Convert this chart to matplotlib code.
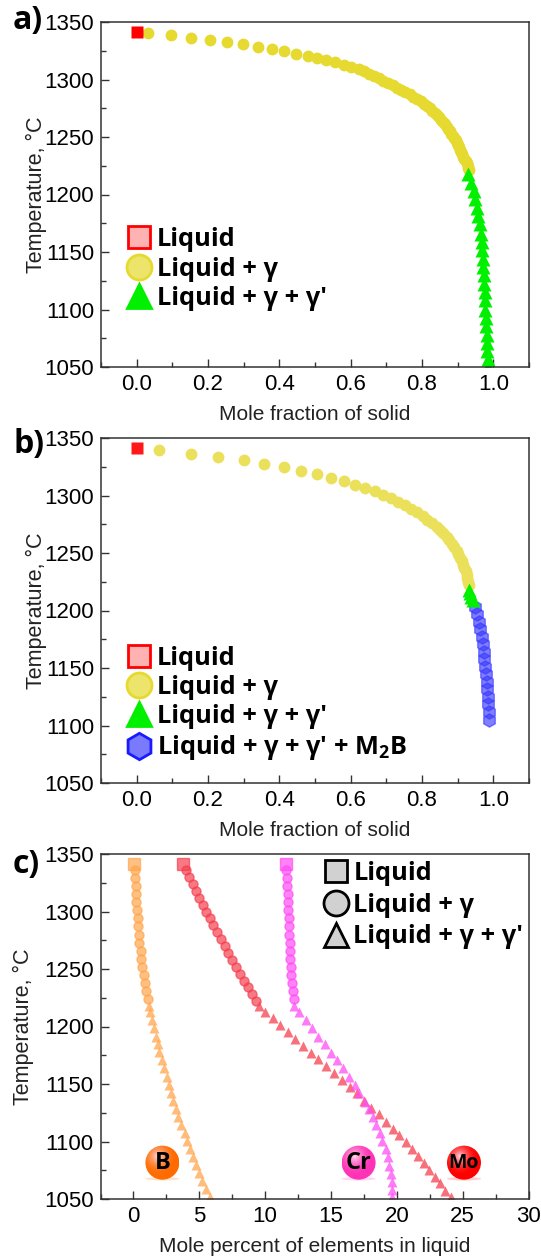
import numpy as np
import matplotlib
matplotlib.use('Agg')
import matplotlib.pyplot as plt
from matplotlib.lines import Line2D
from matplotlib.patches import Ellipse
from matplotlib.ticker import MultipleLocator

plt.rcParams['font.family'] = ['Liberation Sans', 'DejaVu Sans']
plt.rcParams['mathtext.fontset'] = 'custom'
plt.rcParams['mathtext.bf'] = 'Open Sans:bold'
plt.rcParams['mathtext.rm'] = 'Open Sans:bold'

# panel a
a_liquid_x = [0.0]
a_liquid_t = [1341]
a_gamma_x = [0.032, 0.096, 0.152, 0.205, 0.253, 0.299, 0.340, 0.379, 0.414, 0.448, 0.479, 0.506, 0.532, 0.557, 0.580,
             0.602, 0.623, 0.637, 0.651, 0.665, 0.679, 0.692, 0.705, 0.718, 0.730, 0.742, 0.753, 0.765, 0.776, 0.786,
             0.796, 0.805, 0.814, 0.822, 0.829, 0.836, 0.842, 0.848, 0.854, 0.859, 0.864, 0.869, 0.874, 0.878, 0.882,
             0.886, 0.890, 0.894, 0.897, 0.901, 0.904, 0.907, 0.910, 0.913, 0.916, 0.919, 0.922, 0.925, 0.928, 0.930,
             0.932]
a_gamma_t = [1340.7, 1338.7, 1336.4, 1334.3, 1332.3, 1330.6, 1328.3, 1326.6, 1324.6, 1322.6, 1320.6, 1318.6, 1316.8,
             1314.9, 1312.9, 1311.2, 1309.2, 1307, 1305, 1303, 1301, 1299, 1297, 1295, 1293, 1291, 1289, 1287, 1285,
             1283, 1281, 1279, 1277, 1275, 1273, 1271, 1269, 1267, 1265, 1263, 1261, 1259, 1257, 1255, 1253, 1251,
             1249, 1247, 1245, 1243, 1241, 1239, 1237, 1235, 1233, 1231, 1229, 1227, 1225, 1223, 1221]
a_prime_x = [0.930, 0.938, 0.945, 0.950, 0.955, 0.958, 0.962, 0.965, 0.967, 0.969, 0.971, 0.972, 0.974, 0.975, 0.976,
             0.977, 0.978, 0.979, 0.980, 0.981, 0.982, 0.983, 0.984, 0.985]
a_prime_t = [1218, 1210, 1203, 1196, 1188, 1181, 1174, 1166, 1159, 1152, 1144, 1137, 1130, 1122, 1115, 1108, 1100,
             1093, 1086, 1078, 1071, 1064, 1057, 1050]

# panel b
b_liquid_x = [0.0]
b_liquid_t = [1341]
b_gamma_x = [0.063, 0.152, 0.229, 0.300, 0.358, 0.414, 0.462, 0.505, 0.545, 0.581, 0.613, 0.641, 0.667, 0.690, 0.712,
             0.733, 0.752, 0.769, 0.786, 0.802, 0.815, 0.829, 0.841, 0.851, 0.860, 0.869, 0.877, 0.884, 0.891, 0.897,
             0.902, 0.907, 0.911, 0.915, 0.919, 0.922, 0.925, 0.927, 0.929, 0.931]
b_gamma_t = [1339.9, 1336.4, 1333.5, 1330.9, 1327.7, 1324.5, 1321.6, 1318.4, 1315.5, 1312.3, 1309.4, 1306.5, 1303.6,
             1300.7, 1297.5, 1294.3, 1291.4, 1288.3, 1285.4, 1282.2, 1279, 1276, 1273, 1270, 1267, 1264, 1261, 1258,
             1255, 1252, 1249, 1246, 1243, 1240, 1237, 1234, 1231, 1228, 1225, 1222]
b_prime_x = [0.931, 0.935, 0.938, 0.942]
b_prime_t = [1218, 1215, 1212, 1209]
b_m2b_x = [0.948, 0.954, 0.959, 0.963, 0.967, 0.970, 0.973, 0.975, 0.977, 0.979, 0.981, 0.982, 0.984, 0.985, 0.987,
           0.988]
b_m2b_t = [1203, 1197, 1190, 1184, 1177, 1171, 1164, 1158, 1151, 1145, 1138, 1132, 1125, 1119, 1112, 1105]

# panel c, mole percent in liquid
c_liquid_t = [1341.3]
b_el_liquid = [0.08]
mo_liquid = [3.77]
cr_liquid = [11.6]

b_el_gamma = [0.13, 0.13, 0.16, 0.18, 0.21, 0.26, 0.31, 0.37, 0.39, 0.45, 0.55, 0.60, 0.68, 0.79, 0.89, 0.97, 1.07]
cr_gamma = [11.6, 11.66, 11.69, 11.71, 11.74, 11.76, 11.79, 11.82, 11.84, 11.87, 11.92, 11.92, 11.98, 12.0, 12.05,
            12.08, 12.16]
be_cr_gamma_t = [1336, 1329, 1322, 1315, 1308, 1301, 1294, 1287, 1280, 1273, 1266, 1259, 1252, 1245, 1238, 1231, 1224]
mo_gamma = [4.01, 4.22, 4.51, 4.77, 5.0, 5.29, 5.53, 5.79, 6.08, 6.37, 6.66, 6.92, 7.2, 7.49, 7.78, 8.1, 8.41, 8.67,
            8.98, 9.27]
mo_gamma_t = [1336, 1330, 1324, 1318, 1312, 1306, 1300, 1294, 1288, 1282, 1276, 1270, 1264, 1258, 1252, 1246, 1240,
              1234, 1228, 1222]

mo_prime = [9.56, 10.01, 10.59, 11.11, 11.71, 12.26, 12.89, 13.47, 14.05, 14.65, 15.23, 15.83, 16.43, 17.01, 17.53,
            18.03, 18.68, 19.16, 19.68, 20.2, 20.68, 21.17, 21.62, 22.06, 22.48, 22.9, 23.3, 23.69, 24.08]
mo_prime_t = [1217.8, 1213, 1207.7, 1201.3, 1195.2, 1189.1, 1183.3, 1177.2, 1171.4, 1165.4, 1159.6, 1153.5, 1147.7,
              1141.9, 1135.2, 1128.8, 1123.6, 1117.2, 1111.2, 1105.7, 1099.6, 1093.5, 1087.4, 1081.6, 1075.2, 1069.4,
              1063.6, 1057.2, 1051.4]
cr_prime = [12.19, 12.6, 13.08, 13.57, 14.05, 14.52, 15.02, 15.49, 15.93, 16.4, 16.82, 17.14, 17.56, 17.92, 18.16,
            18.42, 18.71, 18.89, 19.16, 19.31, 19.44, 19.55, 19.63, 19.65, 19.65]
cr_prime_t = [1217.8, 1212.6, 1205.7, 1198.4, 1191.2, 1184.5, 1177.2, 1170.6, 1163.6, 1156.4, 1149.1, 1141.9, 1134.6,
              1128, 1121, 1114.3, 1107.1, 1100.4, 1093.2, 1086.2, 1079, 1072, 1064.8, 1058.1, 1051.4]
b_el_prime = [1.15, 1.26, 1.39, 1.57, 1.68, 1.83, 1.94, 2.15, 2.33, 2.54, 2.67, 2.88, 3.04, 3.22, 3.41, 3.64, 3.88,
              4.09, 4.3, 4.51, 4.74, 4.98, 5.24, 5.53, 5.79]
b_el_prime_t = [1217.8, 1212.3, 1205.7, 1198.4, 1191.2, 1184.5, 1177.5, 1170.9, 1163.6, 1156.4, 1149.1, 1142.5,
                1135.2, 1128, 1121, 1114.3, 1107.1, 1100.4, 1093.5, 1086.5, 1079.6, 1072.3, 1065.4, 1058.4, 1051.4]

# element balls
ball_names = ['B', 'Cr', 'Mo']
ball_x = [2.2, 17.1, 25.1]
ball_t = 1081.6
ball_colors = [(1.0, 0.42, 0.0), (1.0, 0.2, 0.72), (1.0, 0.0, 0.0)]

W, H = 541, 1260
RED = '#ff0000'
YEL = '#e6d92f'
GRN = '#00f000'
BLU = '#3a3aff'
ORG = '#ffa64d'
MOC = '#f5404f'
CRC = '#ff4df5'
LEG_FONT = {'family': 'Open Sans', 'weight': 'bold', 'size': 18.3}


def make_axes(left, top, right, bottom):
    return fig.add_axes([left / W, 1 - bottom / H, (right - left) / W, (bottom - top) / H])


def style_axes(ax, xlim, xmajor, xlabel, ylabelpad):
    ax.set_xlim(xlim)
    ax.set_ylim(1050, 1350)
    ax.xaxis.set_major_locator(MultipleLocator(xmajor))
    ax.xaxis.set_minor_locator(MultipleLocator(xmajor / 2))
    ax.yaxis.set_major_locator(MultipleLocator(50))
    ax.yaxis.set_minor_locator(MultipleLocator(25))
    ax.tick_params(which='major', direction='in', length=6, width=1, labelsize=16, color='#333333', pad=5)
    ax.tick_params(which='minor', direction='in', length=3.5, width=1, color='#333333')
    ax.set_xlabel(xlabel, fontsize=15, labelpad=7, color='#222222')
    ax.set_ylabel('Temperature, °C', fontsize=15.5, labelpad=ylabelpad, color='#222222')
    for s in ax.spines.values():
        s.set_linewidth(1.1)
        s.set_color('#333333')


def legend_handle(marker, edge, face, size):
    return Line2D([], [], linestyle='none', marker=marker, markersize=size, markeredgewidth=2,
                  markeredgecolor=edge, markerfacecolor=face)


fig = plt.figure(figsize=(W / 100, H / 100), dpi=100)

# a)
ax = make_axes(101, 22, 529, 367)
ax.plot(a_gamma_x, a_gamma_t, 'o', ms=8.5, color=YEL, mec='none')
ax.plot(a_liquid_x, a_liquid_t, 's', ms=8.5, color=RED, mec='none')
ax.plot(a_prime_x, a_prime_t, '^', ms=9.5, color=GRN, mec='none')
style_axes(ax, (-0.1, 1.1), 0.2, 'Mole fraction of solid', -2)
ax.legend([legend_handle('s', RED, (1, 0, 0, 0.3), 16),
           legend_handle('o', YEL, (0.9, 0.85, 0.18, 0.7), 18),
           legend_handle('^', GRN, GRN, 17)],
          ["Liquid", 'Liquid + γ', "Liquid + γ + γ'"], frameon=False, prop=LEG_FONT, loc='lower left',
          bbox_to_anchor=(0.027, 0.133), borderaxespad=0, labelspacing=0.17, handletextpad=0.05, handlelength=1.3)

# b)
ax = make_axes(101, 438, 529, 783)
ax.plot(b_gamma_x, b_gamma_t, 'o', ms=8.5, color='#ebe05a', mec='none')
ax.plot(b_liquid_x, b_liquid_t, 's', ms=8.5, color=RED, mec='none', alpha=0.9)
ax.plot(b_m2b_x, b_m2b_t, 'h', ms=9.5, color=BLU, mec=BLU, alpha=0.65)
ax.plot(b_prime_x, b_prime_t, '^', ms=9.5, color=GRN, mec='none')
style_axes(ax, (-0.1, 1.1), 0.2, 'Mole fraction of solid', -2)
ax.legend([legend_handle('s', RED, (1, 0, 0, 0.3), 16),
           legend_handle('o', YEL, (0.9, 0.85, 0.18, 0.7), 18),
           legend_handle('^', GRN, GRN, 17),
           legend_handle('h', '#1a1aff', (0.2, 0.2, 1, 0.65), 19)],
          ['Liquid', 'Liquid + γ', "Liquid + γ + γ'", "Liquid + γ + γ' + M$\\mathbf{_2}$B"], frameon=False,
          prop=LEG_FONT, loc='lower left', bbox_to_anchor=(0.027, 0.03), borderaxespad=0, labelspacing=0.17,
          handletextpad=0.05, handlelength=1.3)

# c)
ax = make_axes(100.5, 854, 528.5, 1199)
for vals, t, col in [(b_el_liquid, c_liquid_t, ORG), (mo_liquid, c_liquid_t, MOC), (cr_liquid, c_liquid_t, CRC)]:
    ax.plot(vals, t, 's', ms=8, color=col, mec=col, alpha=0.7)
for vals, t, col in [(b_el_gamma, be_cr_gamma_t, ORG), (mo_gamma, mo_gamma_t, MOC), (cr_gamma, be_cr_gamma_t, CRC)]:
    ax.plot(vals, t, 'o', ms=6.5, color=col, mec=col, alpha=0.7)
for vals, t, col in [(b_el_prime, b_el_prime_t, ORG), (mo_prime, mo_prime_t, MOC), (cr_prime, cr_prime_t, CRC)]:
    ax.plot(vals, t, '^', ms=7.5, color=col, mec='none', alpha=0.75)
style_axes(ax, (-2.5, 30), 5, 'Mole percent of elements in liquid', 7)

# shaded spheres for the element names
yy, xx = np.mgrid[-1:1:200j, -1:1:200j]
rr = np.sqrt((xx + 0.25) ** 2 + (yy + 0.35) ** 2)
for name, bx, col in zip(ball_names, ball_x, ball_colors):
    shade = np.clip(rr / 1.1, 0, 1)[..., None]
    light = np.array([1.0, 0.85, 0.9])
    rgb = light * (1 - shade) ** 2 + np.array(col) * (1 - (1 - shade) ** 2)
    ax.add_patch(Ellipse((bx, ball_t - 14), 2.6, 3, color=col, alpha=0.2, lw=0))
    im = ax.imshow(rgb, extent=(bx - 1.29, bx + 1.29, ball_t - 14.8, ball_t + 14.8), aspect='auto', origin='upper',
                   zorder=3)
    clip = Ellipse((bx, ball_t), 2.58, 29.6, transform=ax.transData)
    im.set_clip_path(clip)
    ax.text(bx, ball_t, name, ha='center', va='center', family='Open Sans', weight='bold',
            size=14 if name == 'Mo' else 17, zorder=4)
ax.set_xlim(-2.5, 30)
ax.set_ylim(1050, 1350)
ax.legend([legend_handle('s', 'black', (0.7, 0.7, 0.7, 0.6), 16),
           legend_handle('o', 'black', (0.7, 0.7, 0.7, 0.6), 18),
           legend_handle('^', 'black', (0.7, 0.7, 0.7, 0.6), 17)],
          ['Liquid', 'Liquid + γ', "Liquid + γ + γ'"], frameon=False, prop=LEG_FONT, loc='upper left',
          bbox_to_anchor=(0.487, 1.01), borderaxespad=0, labelspacing=0.27, handletextpad=0.05, handlelength=1.3)

for lab, y in [('a)', 21), ('b)', 444), ('c)', 864)]:
    fig.text(13 / W, 1 - y / H, lab, family='Open Sans', weight='bold', size=23, va='center')

fig.savefig('out.png', dpi=100)
